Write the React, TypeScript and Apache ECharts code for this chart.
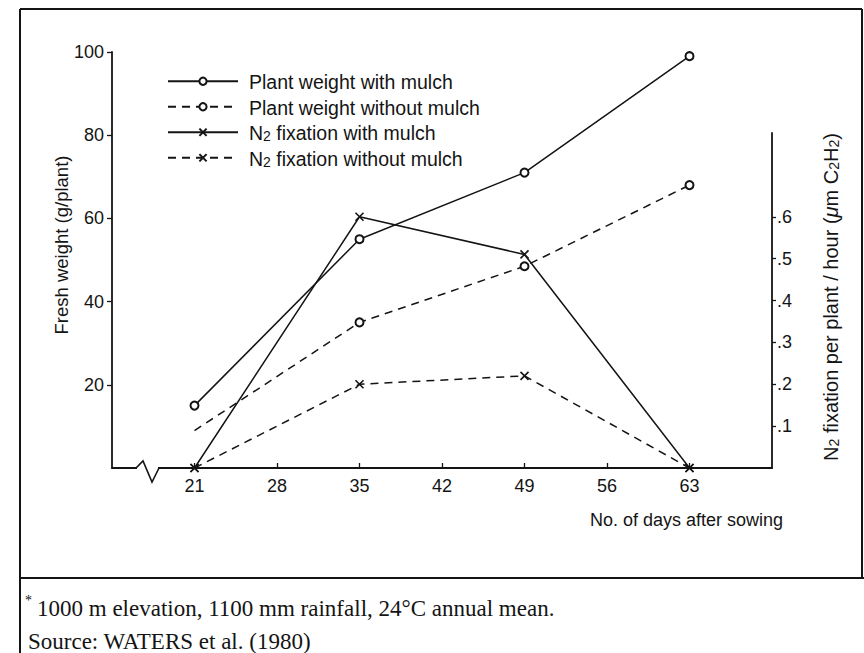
import React, { useEffect, useRef } from "react";
import * as echarts from "echarts";

// ---- data ----
const days = [21, 35, 49, 63];
const weightWithMulch = [15, 55, 71, 99];
const weightWithoutMulch = [9, 35, 48.5, 68];
const n2WithMulch = [0, 0.6, 0.51, 0];
const n2WithoutMulch = [0, 0.2, 0.22, 0];

const xTicks = [21, 28, 35, 42, 49, 56, 63];
const leftTicks = [20, 40, 60, 80, 100];
const rightTicks = [0.1, 0.2, 0.3, 0.4, 0.5, 0.6];

const seriesNames = [
  "Plant weight with mulch",
  "Plant weight without mulch",
  "N2 fixation with mulch",
  "N2 fixation without mulch",
];

const footnote1 = "1000 m elevation, 1100 mm rainfall, 24\u00b0C annual mean.";
const footnote2 = "Source: WATERS et al. (1980)";
const xTitle = "No. of days after sowing";
const leftTitle = "Fresh weight (g/plant)";

const INK = "#141414";
const SANS = "'Liberation Sans', Arial, Helvetica, sans-serif";
const SERIF = "'Liberation Serif', 'Times New Roman', serif";
const X_SYMBOL = "path://M0,0L10,10M0,10L10,0";
const DASH = [8, 6];

const makeRich = (size: number, sub: number) => ({
  r: { fontSize: size, lineHeight: size + 2, verticalAlign: "bottom", fontFamily: SANS, color: INK },
  s: { fontSize: sub, lineHeight: 8, verticalAlign: "bottom", fontFamily: SANS, color: INK },
  i: { fontSize: size, lineHeight: size + 2, verticalAlign: "bottom", fontFamily: SANS, color: INK, fontStyle: "italic" },
});

export default function App() {
  const ref = useRef<HTMLDivElement>(null);

  useEffect(() => {
    document.body.style.margin = "0";
    if (!ref.current) return;
    const chart = echarts.init(ref.current, undefined, { renderer: "svg" });

    const pair = (ys: number[]) => days.map((d, i) => [d, ys[i]]);

    const circleStyle = { color: INK, borderColor: INK, borderWidth: 1.3 };
    const crossStyle = { color: INK, borderColor: INK, borderWidth: 1.6 };

    const withoutFirstMarker = pair(weightWithoutMulch).map((p, i) =>
      i === 0 ? { value: p, symbol: "none" } : { value: p }
    );

    chart.setOption({
      animation: false,
      backgroundColor: "#ffffff",
      textStyle: { fontFamily: SANS, color: INK },
      grid: [
        { left: 112, right: 92, top: 52, bottom: 185 },
        { left: 112, right: 92, top: 133, bottom: 185 },
      ],
      legend: {
        orient: "vertical",
        left: 167,
        top: 72,
        padding: 0,
        itemWidth: 70,
        itemHeight: 9,
        itemGap: 5.5,
        selectedMode: false,
        data: seriesNames,
        formatter: (name: string) =>
          name.startsWith("N2")
            ? "{r|N}{s|2}{r|" + name.slice(2) + "}"
            : "{r|" + name + "}",
        textStyle: { fontSize: 19.5, color: INK, padding: [0, 0, 0, 6], rich: makeRich(19.5, 14) },
      },
      xAxis: [
        {
          type: "value",
          gridIndex: 0,
          min: 14,
          max: 70,
          interval: 7,
          axisLine: { show: true, lineStyle: { color: INK, width: 1.8 } },
          axisTick: {
            show: true,
            inside: true,
            length: 5,
            customValues: xTicks,
            lineStyle: { color: INK, width: 1.3 },
          },
          axisLabel: {
            customValues: xTicks,
            fontSize: 18,
            color: INK,
            margin: 9,
            fontFamily: SANS,
          },
          splitLine: { show: false },
        },
        { type: "value", gridIndex: 1, min: 14, max: 70, interval: 7, show: false },
      ],
      yAxis: [
        {
          type: "value",
          gridIndex: 0,
          min: 0,
          max: 100,
          interval: 20,
          axisLine: { show: true, lineStyle: { color: INK, width: 1.8 } },
          axisTick: {
            show: true,
            length: 5,
            customValues: leftTicks,
            lineStyle: { color: INK, width: 1.3 },
          },
          axisLabel: {
            customValues: leftTicks,
            fontSize: 18,
            color: INK,
            margin: 8,
            fontFamily: SANS,
          },
          splitLine: { show: false },
        },
        {
          type: "value",
          gridIndex: 1,
          position: "right",
          min: 0,
          max: 0.8,
          interval: 0.1,
          axisLine: { show: true, lineStyle: { color: INK, width: 1.8 } },
          axisTick: {
            show: true,
            length: 4,
            customValues: rightTicks,
            lineStyle: { color: INK, width: 1.3 },
          },
          axisLabel: {
            customValues: rightTicks,
            fontSize: 18,
            color: INK,
            margin: 5,
            fontFamily: SANS,
            formatter: (v: number) => "." + Math.round(v * 10),
          },
          splitLine: { show: false },
        },
      ],
      series: [
        {
          name: seriesNames[0],
          type: "line",
          xAxisIndex: 0,
          yAxisIndex: 0,
          data: pair(weightWithMulch),
          symbol: "emptyCircle",
          symbolSize: 8,
          lineStyle: { color: INK, width: 1.5, type: "solid" },
          itemStyle: circleStyle,
          emphasis: { disabled: true },
          silent: true,
        },
        {
          name: seriesNames[1],
          type: "line",
          xAxisIndex: 0,
          yAxisIndex: 0,
          data: withoutFirstMarker,
          symbol: "emptyCircle",
          symbolSize: 8,
          lineStyle: { color: INK, width: 1.5, type: DASH },
          itemStyle: circleStyle,
          emphasis: { disabled: true },
          silent: true,
        },
        {
          name: seriesNames[2],
          type: "line",
          xAxisIndex: 1,
          yAxisIndex: 1,
          data: pair(n2WithMulch),
          symbol: X_SYMBOL,
          symbolSize: 8,
          lineStyle: { color: INK, width: 1.5, type: "solid" },
          itemStyle: crossStyle,
          emphasis: { disabled: true },
          silent: true,
        },
        {
          name: seriesNames[3],
          type: "line",
          xAxisIndex: 1,
          yAxisIndex: 1,
          data: pair(n2WithoutMulch),
          symbol: X_SYMBOL,
          symbolSize: 8,
          lineStyle: { color: INK, width: 1.5, type: DASH },
          itemStyle: crossStyle,
          emphasis: { disabled: true },
          silent: true,
        },
      ],
      graphic: [
        // figure frame
        { type: "line", shape: { x1: 20, y1: 9, x2: 862, y2: 9 }, style: { stroke: INK, lineWidth: 2 } },
        { type: "line", shape: { x1: 20, y1: 9, x2: 20, y2: 653 }, style: { stroke: INK, lineWidth: 2 } },
        { type: "line", shape: { x1: 862, y1: 9, x2: 862, y2: 578 }, style: { stroke: INK, lineWidth: 2 } },
        { type: "line", shape: { x1: 20, y1: 578, x2: 864, y2: 578 }, style: { stroke: INK, lineWidth: 2 } },
        // axis break
        { type: "rect", z: 100, shape: { x: 137, y: 465, width: 21, height: 6 }, style: { fill: "#ffffff" } },
        {
          type: "polyline",
          z: 101,
          shape: { points: [[136, 468], [143, 461], [152, 482], [159, 468]] },
          style: { stroke: INK, lineWidth: 1.6, fill: "none" },
        },
        // axis titles
        {
          type: "text",
          x: 61,
          y: 245,
          rotation: Math.PI / 2,
          style: {
            text: leftTitle,
            fontSize: 18.5,
            fontFamily: SANS,
            fill: INK,
            align: "center",
            verticalAlign: "middle",
          },
        },
        {
          type: "text",
          x: 830,
          y: 297,
          rotation: Math.PI / 2,
          style: {
            text: "{r|N}{s|2}{r| fixation per plant / hour (}{i|\u03bc}{r|m C}{s|2}{r|H}{s|2}{r|)}",
            rich: makeRich(20, 14),
            fontSize: 20,
            fontFamily: SANS,
            fill: INK,
            align: "center",
            verticalAlign: "middle",
          },
        },
        {
          type: "text",
          x: 783,
          y: 520,
          style: {
            text: xTitle,
            fontSize: 18,
            fontFamily: SANS,
            fill: INK,
            align: "right",
            verticalAlign: "middle",
          },
        },
        // footnotes
        {
          type: "text",
          x: 25,
          y: 600,
          style: { text: "*", fontSize: 14, fontFamily: SERIF, fill: INK, align: "left", verticalAlign: "middle" },
        },
        {
          type: "text",
          x: 37,
          y: 608,
          style: { text: footnote1, fontSize: 23, fontFamily: SERIF, fill: INK, align: "left", verticalAlign: "middle" },
        },
        {
          type: "text",
          x: 28,
          y: 641,
          style: { text: footnote2, fontSize: 23, fontFamily: SERIF, fill: INK, align: "left", verticalAlign: "middle" },
        },
      ],
    });

    return () => chart.dispose();
  }, []);

  return <div ref={ref} style={{ width: 864, height: 653 }} />;
}
